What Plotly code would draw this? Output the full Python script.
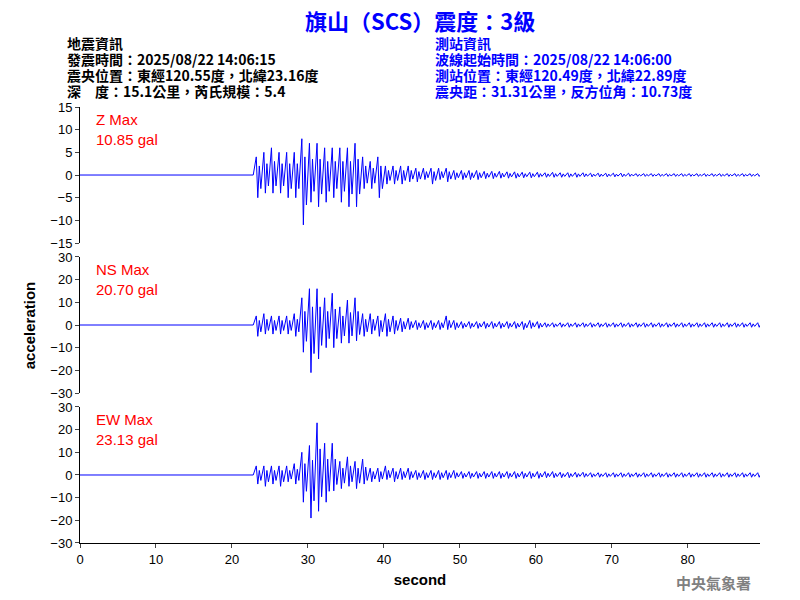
import plotly.graph_objects as go

# per-second envelope (max, min), starting at t = 22 s
t0 = 22
z_hi = [0, 4, 5, 6, 5, 5, 5, 8, 7, 7, 6, 6, 6, 6, 7, 4, 3, 4, 2, 2, 2, 2, 1.5, 1.5, 1.5, 1.5, 1.5, 1, 1,
        1, 1, 0.8, 0.8, 0.8, 0.7, 0.7, 0.6, 0.6, 0.6, 0.5, 0.6, 0.5, 0.5, 0.5, 0.5, 0.4, 0.4, 0.4, 0.4,
        0.4, 0.4, 0.3, 0.3, 0.3, 0.3, 0.3, 0.3, 0.3, 0.3, 0.3, 0.3, 0.3, 0.3, 0.3, 0.3, 0.3, 0.3, 0.3]
z_lo = [0, -5, -4, -4, -4, -5, -5, -11, -6, -7, -6, -5, -6, -7, -7, -3, -3, -5, -2, -2, -2, -1.5, -1.5, -1, -2, -1, -1.5, -1, -1,
        -1, -1, -0.8, -0.8, -0.7, -0.7, -0.7, -0.6, -0.6, -0.5, -0.5, -0.5, -0.5, -0.5, -0.5, -0.4, -0.4, -0.4, -0.4, -0.4,
        -0.4, -0.3, -0.3, -0.3, -0.3, -0.3, -0.3, -0.3, -0.3, -0.3, -0.3, -0.3, -0.3, -0.3, -0.3, -0.3, -0.3, -0.3, -0.3]
ns_hi = [0, 4, 5, 4, 4, 4, 5, 12, 16, 16, 12, 14, 8, 11, 12, 5, 5, 4, 5, 4, 3, 3, 2, 2, 2, 2, 4, 2, 1.5,
         1.5, 1.5, 1.5, 1.5, 1.5, 1.5, 1.5, 1.5, 2, 1.5, 1, 1, 1, 1, 1, 1, 1, 1, 1, 1,
         1, 1, 1, 1, 1, 1, 1, 1, 1, 1, 1, 1, 1, 1, 1, 1, 1, 1, 1]
ns_lo = [0, -5, -4, -4, -4, -4, -5, -12, -21, -15, -10, -10, -8, -8, -7, -5, -4, -5, -5, -4, -3, -2, -2, -2, -2, -2, -2, -2, -1.5,
         -1.5, -1.5, -1.5, -1.5, -1.5, -1.5, -1.5, -2, -1.5, -1.5, -1, -1, -1, -1, -1, -1, -1, -1, -1, -1,
         -1, -1, -1, -1, -1, -1, -1, -1, -1, -1, -1, -1, -1, -1, -1, -1, -1, -1, -1]
ew_hi = [0, 4, 4, 4, 4, 4, 5, 10, 13, 23, 14, 14, 6, 8, 6, 7, 3, 3, 4, 3, 3, 3, 2, 2, 2, 2, 2, 2, 1.5,
         1.5, 1.5, 1.5, 1.5, 1.5, 1.5, 1.5, 1.5, 1.5, 1.5, 1.5, 1.5, 1.2, 1.2, 1.2, 1.2, 1, 1, 1, 1,
         1, 1, 1, 1, 1, 1, 1, 1, 1, 1, 1, 1, 1, 1, 1, 1, 1, 1, 1]
ew_lo = [0, -4, -5, -4, -5, -3, -4, -12, -19, -16, -12, -7, -6, -5, -6, -4, -3, -3, -2, -3, -2, -2, -2, -2, -2, -2, -2, -1.5, -1.5,
         -1.5, -1.5, -1.5, -1.5, -1.5, -1.5, -1.5, -1.5, -1.5, -1.5, -1.2, -1.2, -1.2, -1.2, -1, -1, -1, -1, -1, -1,
         -1, -1, -1, -1, -1, -1, -1, -1, -1, -1, -1, -1, -1, -1, -1, -1, -1, -1, -1]

labels = ["Z Max<br>10.85 gal", "NS Max<br>20.70 gal", "EW Max<br>23.13 gal"]
series = [(z_hi, z_lo), (ns_hi, ns_lo), (ew_hi, ew_lo)]
ranges = [15, 30, 30]
dticks = [5, 10, 10]
domains = [[0.688, 1.0], [0.344, 0.656], [0.0, 0.312]]

left_lines = ["地震資訊", "發震時間：2025/08/22 14:06:15", "震央位置：東經120.55度，北緯23.16度",
              "深　度：15.1公里，芮氏規模：5.4"]
right_lines = ["測站資訊", "波線起始時間：2025/08/22 14:06:00", "測站位置：東經120.49度，北緯22.89度",
               "震央距：31.31公里，反方位角：10.73度"]


def zigzag(hi, lo):
    xs, ys = [0, t0], [0, 0]
    for i, (h, l) in enumerate(zip(hi, lo)):
        xs += [t0 + i + 0.2, t0 + i + 0.4, t0 + i + 0.6, t0 + i + 0.8]
        ys += [h, l, h * 0.5, l * 0.6]
    return xs, ys


fig = go.Figure()
for k, (hi, lo) in enumerate(series):
    xs, ys = zigzag(hi, lo)
    ax = "" if k == 0 else str(k + 1)
    fig.add_trace(go.Scatter(x=xs, y=ys, mode="lines", line=dict(color="blue", width=1),
                             xaxis="x", yaxis="y" + ax, showlegend=False))
    fig.update_layout(**{"yaxis" + ax: dict(
        domain=domains[k], range=[-ranges[k], ranges[k]], dtick=dticks[k], automargin=False,
        showgrid=False, zeroline=False, showline=True, linecolor="black",
        ticks="outside", ticklen=4, tickfont=dict(size=13, color="black", family="Arial"))})
    fig.add_annotation(text=labels[k], xref="paper", yref="paper", x=0.02, y=domains[k][1] - 0.005,
                       xanchor="left", yanchor="top", align="left", showarrow=False,
                       font=dict(size=15, color="red", family="Arial"))

fig.update_layout(
    width=800, height=600, plot_bgcolor="white", paper_bgcolor="white",
    margin=dict(l=72, r=48, t=99, b=65),
    font=dict(family="Arial, Noto Sans CJK TC", color="black"),
    xaxis=dict(range=[0, 89.5], tickvals=[0, 10, 20, 30, 40, 50, 60, 70, 80], automargin=False,
               showgrid=False, zeroline=False, showline=True, linecolor="black",
               ticks="outside", ticklen=4, tickfont=dict(size=13, family="Arial"),
               title=dict(text="<b>second</b>", font=dict(size=15), standoff=8), anchor="y3"),
)
fig.add_annotation(text="<b>acceleration</b>", xref="paper", yref="paper", x=-0.09, y=0.5,
                   textangle=-90, showarrow=False, font=dict(size=15))
fig.add_annotation(text="<b>旗山（SCS）震度：3級</b>", xref="paper", yref="paper", x=0.5, y=1.2,
                   yanchor="middle", showarrow=False,
                   font=dict(size=22, color="blue", family="Noto Sans CJK TC"))
for i, (a, b) in enumerate(zip(left_lines, right_lines)):
    yy = 1 + (64 - 16 * i) / 436
    fig.add_annotation(text=f"<b>{a}</b>", xref="paper", yref="paper", x=-0.022, y=yy, xanchor="left",
                       yanchor="middle", showarrow=False,
                       font=dict(size=14, family="Noto Sans CJK TC", color="black"))
    fig.add_annotation(text=f"<b>{b}</b>", xref="paper", yref="paper", x=0.519, y=yy, xanchor="left",
                       yanchor="middle", showarrow=False,
                       font=dict(size=14, family="Noto Sans CJK TC", color="blue"))
fig.add_annotation(text="<b>中央氣象署</b>", xref="paper", yref="paper", x=0.99, y=-0.09,
                   xanchor="right", yanchor="middle", showarrow=False,
                   font=dict(size=15, color="gray", family="Noto Sans CJK TC"))
fig.write_html("out.html")
